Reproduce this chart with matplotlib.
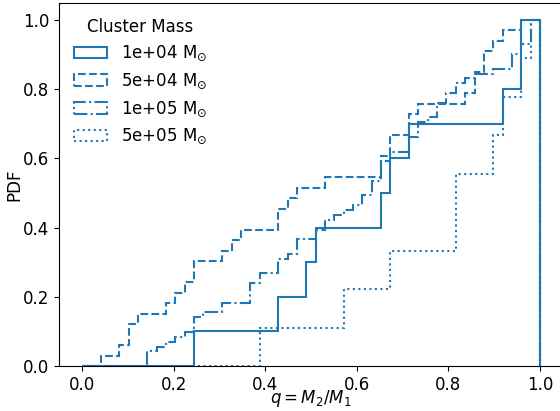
import numpy as np
import matplotlib
matplotlib.use("Agg")
import matplotlib.pyplot as plt

plt.rcParams['font.size'] = 12

# mass ratios q = M2/M1 for each cluster mass
q_1e4 = [0.255, 0.439, 0.500, 0.520, 0.663, 0.684, 0.724, 0.929, 0.969, 0.969]

q_5e4 = [0.051, 0.092, 0.112, 0.112, 0.133, 0.194, 0.214, 0.235, 0.255, 0.255,
         0.316, 0.337, 0.357, 0.439, 0.439, 0.459, 0.480, 0.541, 0.663, 0.663,
         0.684, 0.684, 0.724, 0.724, 0.745, 0.847, 0.867, 0.867, 0.888, 0.888,
         0.908, 0.929, 0.969]

q_1e5 = [0.153, 0.153, 0.153, 0.173, 0.194, 0.214, 0.235, 0.255, 0.255, 0.255,
         0.276, 0.316, 0.316, 0.378, 0.378, 0.378, 0.378, 0.398, 0.398, 0.439,
         0.439, 0.439, 0.459, 0.480, 0.480, 0.480, 0.520, 0.520, 0.541, 0.541,
         0.561, 0.582, 0.602, 0.622, 0.622, 0.643, 0.643, 0.643, 0.663, 0.663,
         0.663, 0.663, 0.684, 0.684, 0.724, 0.724, 0.724, 0.745, 0.745, 0.745,
         0.765, 0.786, 0.786, 0.786, 0.806, 0.806, 0.827, 0.827, 0.847, 0.867,
         0.908, 0.949, 0.949, 0.949, 0.969, 0.969, 0.990, 0.990, 0.990, 0.990,
         0.990]

q_5e5 = [0.398, 0.582, 0.684, 0.827, 0.827, 0.908, 0.929, 0.969, 0.990]

samples = [q_1e4, q_5e4, q_1e5, q_5e5]
labels = ['1e+04 M$_{\\odot}$', '5e+04 M$_{\\odot}$', '1e+05 M$_{\\odot}$', '5e+05 M$_{\\odot}$']
styles = ['-', '--', '-.', ':']

bins = np.linspace(0, 1, 50)

fig = plt.figure(figsize=(5.6, 4.11), dpi=100)
ax = fig.add_axes([0.1055, 0.1095, 0.8996, 0.884])

for q, lab, ls in zip(samples, labels, styles):
    ax.hist(q, bins=bins, cumulative=True, density=True, histtype='step',
            color='C0', linestyle=ls, linewidth=1.5, label=lab)

ax.set_xlim(-0.05, 1.05)
ax.set_ylim(0, 1.05)
ax.set_xlabel('$q = M_2/M_1$', labelpad=-4)
ax.set_ylabel('PDF', labelpad=0)
ax.legend(title='Cluster Mass', loc='upper left', frameon=False)

fig.savefig('out.png', dpi=100)
